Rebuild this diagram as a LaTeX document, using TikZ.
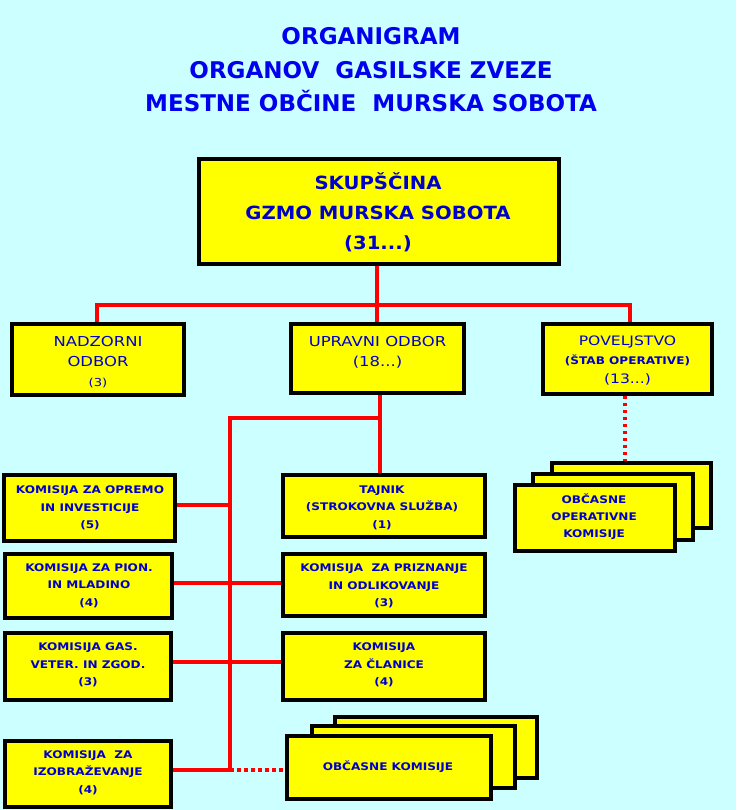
\documentclass[tikz,border=0pt]{standalone}
\usepackage{fontspec}
\setmainfont{DejaVu Sans}
\newfontfamily\fa[FakeStretch=1.08]{DejaVu Sans}
\newfontfamily\fb[FakeStretch=1.2]{DejaVu Sans}
\newfontfamily\fc[FakeStretch=1.15]{DejaVu Sans}
\definecolor{bgc}{HTML}{CCFFFF}
\definecolor{txt}{HTML}{0000EE}
\definecolor{btxt}{HTML}{0000CC}
\definecolor{ln}{HTML}{FF0000}
\definecolor{yel}{HTML}{FFFF00}
\pgfdeclarelayer{bgl}
\pgfdeclarelayer{back}
\pgfsetlayers{bgl,back,main}
\tikzset{
  box/.style={draw=black, line width=3.8pt, fill=yel, inner sep=0pt},
  lbl/.style={text=btxt, align=center, inner sep=0pt},
  title/.style={lbl, text=txt, font=\fontsize{23}{33.5}\selectfont\bfseries},
  big/.style={lbl, font=\fa\fontsize{18.2}{30}\selectfont\bfseries},
  mid/.style={lbl, font=\fb\fontsize{13.7}{20}\selectfont},
  small/.style={lbl, font=\fc\fontsize{10.5}{17.5}\selectfont\bfseries},
  conn/.style={draw=ln, line width=4.6pt},
  dotl/.style={draw=ln, line width=4.6pt, dash pattern=on 3.5pt off 3.5pt},
}
\begin{document}
\begin{tikzpicture}[x=1pt,y=-1pt]
\useasboundingbox (0,0) rectangle (736,810);
\begin{pgfonlayer}{bgl}
\fill[bgc] (0,0) rectangle (736,810);
\end{pgfonlayer}
% title
\node[title] (title) at (371,70) {ORGANIGRAM\\ORGANOV\ \ GASILSKE ZVEZE\\MESTNE OBČINE\ \ MURSKA SOBOTA};
% boxes
\node[box, minimum width=360, minimum height=105] (skup) at (379,211.5) {};
\node[big] (skupt) at (378,212) {SKUPŠČINA\\GZMO MURSKA SOBOTA\\(31...)};
\node[box, minimum width=172, minimum height=71] (nadz) at (98,359.5) {};
\node[mid] (nadzt) at (98,362) {NADZORNI\\ODBOR\\{\fontsize{11}{11}\selectfont(3)}};
\node[box, minimum width=173, minimum height=69] (uprav) at (377.5,358.5) {};
\node[mid] (upravt) at (377.5,352.5) {UPRAVNI ODBOR\\(18...)};
\node[box, minimum width=169, minimum height=70] (povel) at (627.5,359) {};
\node[mid, font=\fb\fontsize{13}{19}\selectfont] (povelt) at (627.5,361) {POVELJSTVO\\{\fc\bfseries\fontsize{10.5}{10.5}\selectfont(ŠTAB OPERATIVE)}\\(13...)};
% left column
\node[box, minimum width=171, minimum height=66] (opremo) at (89.5,508) {};
\node[small] (opremot) at (90,508) {KOMISIJA ZA OPREMO\\IN INVESTICIJE\\(5)};
\node[box, minimum width=167, minimum height=64] (pion) at (88.5,586) {};
\node[small] (piont) at (89,585.5) {KOMISIJA ZA PION.\\IN MLADINO\\(4)};
\node[box, minimum width=166, minimum height=67] (gas) at (88,666.5) {};
\node[small] (gast) at (88,665) {KOMISIJA GAS.\\VETER. IN ZGOD.\\(3)};
\node[box, minimum width=166, minimum height=66] (izobr) at (88,774) {};
\node[small] (izobrt) at (88,772.5) {KOMISIJA\ \ ZA\\IZOBRAŽEVANJE\\(4)};
% right column
\node[box, minimum width=202, minimum height=62] (tajnik) at (384,506) {};
\node[small] (tajnikt) at (382,507.5) {TAJNIK\\(STROKOVNA SLUŽBA)\\(1)};
\node[box, minimum width=202, minimum height=62] (prizn) at (384,585) {};
\node[small] (priznt) at (384,586) {KOMISIJA\ \ ZA PRIZNANJE\\IN ODLIKOVANJE\\(3)};
\node[box, minimum width=202, minimum height=67] (clan) at (384,666.5) {};
\node[small] (clant) at (384,665) {KOMISIJA\\ZA ČLANICE\\(4)};
% obcasne komisije stack
\node[box, minimum width=202, minimum height=61] (obc3) at (436,747.5) {};
\node[box, minimum width=203, minimum height=62] (obc2) at (413.5,757) {};
\node[box, minimum width=204, minimum height=63] (obc1) at (389,767.5) {};
\node[small] (obct) at (388,767) {OBČASNE KOMISIJE};
% obcasne operativne komisije stack
\node[box, minimum width=159, minimum height=65] (op3) at (631.5,495.5) {};
\node[box, minimum width=160, minimum height=66] (op2) at (613,507) {};
\node[box, minimum width=160, minimum height=66] (op1) at (595,518) {};
\node[small, font=\fc\fontsize{10.5}{17}\selectfont\bfseries] (opt) at (594,516.5) {OBČASNE\\OPERATIVNE\\KOMISIJE};
% connectors
\coordinate (hl) at (97,305);
\coordinate (hr) at (630,305);
\coordinate (j0) at (377,305);
\coordinate (j1) at (380,418);
\coordinate (j2) at (230,418);
\coordinate (c1) at (230,505);
\coordinate (c2) at (230,583);
\coordinate (c3) at (230,662);
\coordinate (j3) at (230,770);
\coordinate (dv) at (625,400);
\begin{pgfonlayer}{back}
\draw[conn] (j0 |- skup.south) -- (j0 |- uprav.north);
\draw[conn] (hl |- nadz.north) -- (hl) -- (hr) -- (hr |- povel.north);
\draw[conn] (j1 |- uprav.south) -- (j1 |- tajnik.north);
\draw[conn] (j1) -- (j2) -- (j3);
\draw[conn] (c1 -| opremo.east) -- (c1);
\draw[conn] (c2 -| pion.east) -- (c2 -| prizn.west);
\draw[conn] (c3 -| gas.east) -- (c3 -| clan.west);
\draw[conn] (j3 -| izobr.east) -- (j3);
\draw[dotl] (j3) -- (j3 -| obc1.west);
\draw[dotl] (dv |- povel.south) -- (dv |- op3.north);
\end{pgfonlayer}
\end{tikzpicture}
\end{document}
